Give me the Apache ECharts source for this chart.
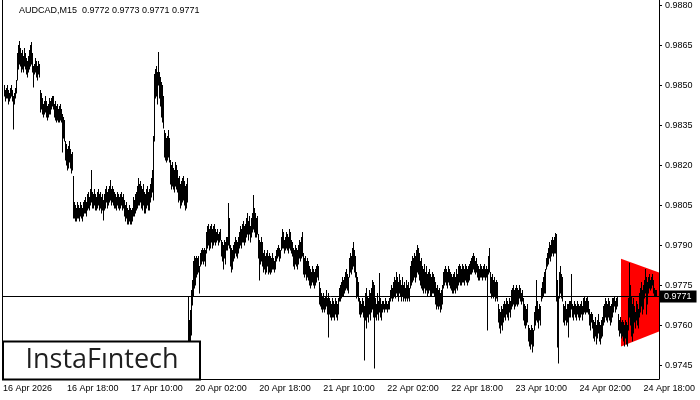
<!DOCTYPE html>
<html><head><meta charset="utf-8">
<script src="https://cdn.jsdelivr.net/npm/echarts@6/dist/echarts.min.js"></script>
<style>html,body{margin:0;padding:0;background:#fff}#c{width:700px;height:400px}</style>
</head><body><div id="c"></div>
<script>
// AUDCAD M15 bar highs / lows (one value per bar)
const highs = [
0.9849,0.9850,0.9848,0.9849,0.9850,0.9848,0.9847,0.9849,0.9850,0.9848,
0.9846,0.9847,0.9849,0.9852,0.9862,0.9865,0.98665,0.9864,0.9862,0.9863,
0.9861,0.9864,0.9862,0.9860,0.9859,0.9861,0.9863,0.9865,0.9866,0.9862,
0.9857,0.9858,0.9860,0.9859,0.9857,0.9859,0.9858,0.9848,0.9847,0.9845,
0.9843,0.9844,0.9846,0.9844,0.9842,0.9843,0.9845,0.9844,0.9845,0.9846,
0.9846,0.9843,0.9844,0.9842,0.9843,0.9841,0.9842,0.9843,0.9841,0.9839,
0.9838,0.9837,0.9829,0.9828,0.9826,0.9827,0.9829,0.9826,0.9824,0.9825,
0.9816,0.9806,0.9805,0.9804,0.9806,0.9805,0.9804,0.9806,0.9805,0.9804,
0.9806,0.9807,0.9808,0.9806,0.9809,0.9810,0.9808,0.9811,0.98181,0.9810,
0.9809,0.9811,0.9809,0.9808,0.9810,0.9811,0.9809,0.9810,0.9808,0.9809,
0.9807,0.9809,0.9811,0.9812,0.9810,0.9811,0.9812,0.98144,0.9811,0.9812,
0.9811,0.9810,0.9809,0.9808,0.9810,0.9809,0.9808,0.9809,0.9810,0.9808,
0.9809,0.9807,0.9805,0.9806,0.9804,0.9803,0.9805,0.9804,0.9803,0.9804,
0.9808,0.9807,0.9809,0.9810,0.9812,0.9815,0.9813,0.9814,0.9812,0.9811,
0.9813,0.9810,0.9809,0.9811,0.9812,0.9810,0.9811,0.9813,0.9815,0.9818,
0.9831,0.9854,0.9856,0.9857,0.9855,0.98624,0.9855,0.9853,0.9851,0.9850,
0.9846,0.9833,0.9832,0.9830,0.9831,0.9833,0.9830,0.9822,0.9820,0.9821,
0.9819,0.9818,0.9821,0.9820,0.9818,0.9815,0.9816,0.9813,0.9814,0.9815,
0.9816,0.9814,0.9812,0.9813,0.9815,0.97705,0.97619,0.97656,0.97731,0.97769,
0.9784,0.9786,0.9785,0.9786,0.9785,0.9786,0.9782,0.9787,0.9788,0.9789,
0.9788,0.9789,0.9788,0.9795,0.9797,0.9798,0.9796,0.9797,0.9798,0.9796,
0.9797,0.9798,0.9796,0.9795,0.9796,0.9794,0.9795,0.9796,0.9792,0.9791,
0.9790,0.9792,0.9791,0.9793,0.9793,0.98058,0.9800,0.9790,0.9789,0.9788,
0.9790,0.9791,0.9793,0.9792,0.9791,0.9793,0.9795,0.9797,0.9796,0.9798,
0.9799,0.9797,0.9798,0.9800,0.9802,0.9799,0.9801,0.9797,0.9800,0.9802,
0.98088,0.9804,0.9802,0.9800,0.9801,0.9794,0.9792,0.9791,0.9793,0.9791,
0.9787,0.9788,0.9786,0.9787,0.9788,0.9786,0.9787,0.9786,0.9785,0.9787,
0.9785,0.9784,0.9786,0.9788,0.9789,0.9790,0.9789,0.9788,0.9793,0.9796,
0.9795,0.9792,0.9793,0.9795,0.9794,0.9793,0.9796,0.9795,0.9792,0.9791,
0.9789,0.9788,0.9790,0.9789,0.9788,0.9790,0.9792,0.9791,0.9793,0.9795,
0.9787,0.9785,0.9786,0.9784,0.9785,0.9784,0.9782,0.9781,0.9780,0.9782,
0.9781,0.9780,0.9781,0.9782,0.9783,0.9782,0.9776,0.9774,0.9772,0.9771,
0.9772,0.9770,0.9771,0.9773,0.9770,0.9772,0.9770,0.9769,0.9768,0.9770,
0.9769,0.9768,0.9770,0.9769,0.9768,0.9770,0.9774,0.9775,0.9776,0.9778,
0.9777,0.9778,0.9780,0.9781,0.9779,0.9778,0.9785,0.9787,0.9786,0.9789,
0.97911,0.9788,0.9786,0.9780,0.9778,0.9776,0.9770,0.9769,0.9768,0.9770,
0.9769,0.9767,0.9772,0.9774,0.9771,0.9770,0.9773,0.9772,0.9774,0.9777,
0.9776,0.9775,0.9770,0.9768,0.9772,0.9769,0.97795,0.9770,0.9768,0.9769,
0.9769,0.9768,0.9770,0.9769,0.9768,0.9769,0.9770,0.9773,0.9775,0.9774,
0.9776,0.9778,0.9777,0.9780,0.9778,0.9776,0.9779,0.9777,0.9775,0.9778,
0.9775,0.9776,0.9774,0.9777,0.9775,0.9776,0.9774,0.9782,0.9784,0.9786,
0.9785,0.9787,0.9786,0.9788,0.9790,0.9789,0.9787,0.9784,0.9785,0.9782,
0.9781,0.9783,0.9780,0.9782,0.9779,0.9780,0.9781,0.9779,0.9778,0.9780,
0.9779,0.9778,0.9776,0.9774,0.9775,0.9773,0.9774,0.9772,0.9773,0.9775,
0.9780,0.9781,0.9782,0.9781,0.9780,0.9782,0.9781,0.9780,0.9779,0.9778,
0.9779,0.9780,0.9778,0.9781,0.9779,0.9782,0.9783,0.9782,0.9781,0.9783,
0.9782,0.9781,0.9783,0.9782,0.9781,0.9782,0.9783,0.9784,0.9785,0.9786,
0.9787,0.9786,0.9784,0.9785,0.9783,0.9782,0.9781,0.9783,0.9782,0.9781,
0.9782,0.9783,0.9781,0.9782,0.9781,0.9786,0.9789,0.9780,0.9778,0.9779,
0.9777,0.9778,0.9776,0.9777,0.9776,0.9768,0.9766,0.9765,0.9767,0.9766,
0.9768,0.9769,0.9768,0.9770,0.9769,0.9768,0.9770,0.9769,0.9773,0.9774,
0.9775,0.9773,0.9774,0.9775,0.9774,0.9773,0.9775,0.9774,0.9772,0.9773,
0.9770,0.9768,0.9767,0.9766,0.9768,0.9760,0.9759,0.9758,0.9760,0.9759,
0.9758,0.9765,0.9767,0.9777,0.9769,0.9766,0.9768,0.9767,0.9774,0.9776,
0.9778,0.9780,0.9781,0.9785,0.9787,0.9789,0.9791,0.9790,0.9792,0.9793,
0.9792,0.9793,0.97945,0.9794,0.9777,0.9771,0.9780,0.9782,0.9779,0.9778,
0.9768,0.9767,0.9769,0.9766,0.9768,0.9768,0.9769,0.9769,0.97791,0.9768,
0.9767,0.9769,0.9768,0.9767,0.9769,0.9768,0.9767,0.9768,0.9769,0.9767,
0.9770,0.9771,0.9769,0.9770,0.9771,0.9769,0.9766,0.9764,0.9765,0.9764,
0.9762,0.9761,0.9763,0.9760,0.9762,0.9764,0.9761,0.9760,0.9762,0.9763,
0.9767,0.9768,0.9770,0.9769,0.9768,0.9770,0.9769,0.9767,0.9768,0.9770,
0.9770,0.9771,0.9769,0.9770,0.9771,0.9764,0.9762,0.9763,0.9761,0.9762,
0.9761,0.9760,0.9762,0.9761,0.9760,0.9770,0.97833,0.9775,0.9771,0.9768,
0.9770,0.9767,0.9765,0.9769,0.9768,0.9766,0.9772,0.9774,0.9776,0.9773,
0.9775,0.9777,0.9781,0.9778,0.9776,0.9778,0.9779,0.9777,0.9778,0.9779,
0.9777,0.9774,0.9773,0.9773
];
const lows = [
0.9845,0.9846,0.9844,0.9845,0.9845,0.9843,0.9844,0.9845,0.9846,0.9844,
0.98335,0.9843,0.9845,0.9847,0.9852,0.9856,0.9858,0.9857,0.9855,0.9856,
0.9855,0.9857,0.9856,0.9854,0.9853,0.9855,0.9856,0.9857,0.9858,0.9855,
0.98493,0.9854,0.9855,0.9853,0.9852,0.9854,0.9853,0.9840,0.9841,0.9839,
0.9838,0.9839,0.9840,0.9838,0.9837,0.9838,0.9839,0.9839,0.9841,0.9842,
0.9841,0.9838,0.9837,0.9836,0.9837,0.9836,0.9836,0.9837,0.9836,0.98249,
0.9830,0.9829,0.9822,0.9820,0.9818,0.9819,0.9821,0.9819,0.9817,0.9818,
0.9800,0.9800,0.9799,0.9799,0.9800,0.9800,0.9799,0.9801,0.9800,0.9799,
0.9801,0.9802,0.9802,0.9801,0.9803,0.9804,0.9803,0.9805,0.9806,0.9804,
0.9804,0.9805,0.9803,0.9803,0.9804,0.9805,0.9803,0.9804,0.9802,0.9803,
0.97994,0.9803,0.9804,0.9806,0.9804,0.9805,0.9806,0.9807,0.9805,0.9806,
0.9805,0.9804,0.9804,0.9803,0.9805,0.9804,0.9803,0.9804,0.9805,0.9803,
0.9804,0.9801,0.9799,0.9800,0.9798,0.9798,0.9799,0.9798,0.9798,0.9799,
0.9801,0.9801,0.9802,0.9803,0.9804,0.9805,0.9805,0.9806,0.9804,0.9803,
0.9805,0.9802,0.9802,0.9804,0.9805,0.9803,0.9803,0.9806,0.9808,0.9810,
0.9807,0.9829,0.9845,0.9846,0.9843,0.9850,0.9845,0.9842,0.9838,0.9836,
0.9834,0.9823,0.9822,0.9821,0.9822,0.9823,0.9821,0.9813,0.9811,0.9812,
0.9811,0.9810,0.9812,0.9811,0.9810,0.9806,0.9807,0.9804,0.9805,0.9806,
0.9807,0.9805,0.9803,0.9804,0.9806,0.97506,0.97488,0.97525,0.97563,0.97675,
0.9771,0.9774,0.9775,0.9778,0.9779,0.9780,0.9772,0.9782,0.9783,0.9784,
0.9783,0.9784,0.9782,0.9787,0.9789,0.9790,0.9788,0.9789,0.9791,0.9789,
0.9790,0.9791,0.9790,0.9791,0.9792,0.9790,0.9791,0.9792,0.9786,0.9784,
0.9781,0.9785,0.9783,0.9788,0.9788,0.9790,0.9789,0.9782,0.9780,0.9781,
0.9784,0.9785,0.9787,0.9786,0.9785,0.9787,0.9789,0.9790,0.9789,0.9791,
0.9791,0.9790,0.9791,0.9793,0.9794,0.9792,0.9794,0.9791,0.9793,0.9795,
0.9796,0.9795,0.9793,0.9793,0.9794,0.9785,0.97769,0.9783,0.9784,0.9782,
0.9780,0.9781,0.9779,0.9780,0.9782,0.9779,0.9780,0.9779,0.9780,0.9781,
0.9781,0.9780,0.9781,0.9784,0.9785,0.9786,0.9784,0.9785,0.9788,0.9789,
0.9789,0.9787,0.9788,0.9789,0.9788,0.9787,0.9789,0.9788,0.9787,0.9786,
0.9782,0.9781,0.9783,0.9782,0.9781,0.9783,0.9785,0.9784,0.9785,0.9786,
0.9779,0.9778,0.9779,0.9777,0.9778,0.9777,0.9775,0.9774,0.9775,0.9776,
0.9775,0.9774,0.9775,0.9776,0.9778,0.9777,0.9768,0.9767,0.9766,0.9765,
0.9766,0.9765,0.9766,0.9767,0.9764,0.97555,0.9764,0.9763,0.9762,0.9763,
0.9763,0.9762,0.9764,0.9763,0.9762,0.9764,0.9769,0.9769,0.9770,0.9771,
0.9771,0.9772,0.9773,0.9774,0.9773,0.9772,0.9778,0.9780,0.9779,0.9781,
0.9782,0.9780,0.9778,0.9770,0.9771,0.9769,0.9764,0.9763,0.9764,0.9765,
0.9763,0.97469,0.9762,0.9759,0.9763,0.9761,0.9764,0.9762,0.9765,0.9766,
0.9763,0.97439,0.9763,0.9762,0.9764,0.9762,0.9765,0.9763,0.9762,0.9765,
0.9766,0.9765,0.9766,0.9766,0.9765,0.9766,0.9766,0.9769,0.9770,0.9769,
0.9770,0.9771,0.9770,0.9772,0.9771,0.9769,0.9772,0.9771,0.9769,0.9771,
0.9769,0.9770,0.9769,0.9770,0.9769,0.9770,0.9769,0.9774,0.9775,0.9776,
0.9777,0.9778,0.9776,0.9778,0.9780,0.9779,0.9777,0.9775,0.9774,0.9773,
0.9772,0.9774,0.9772,0.9773,0.9771,0.9772,0.9773,0.9771,0.9771,0.9772,
0.9772,0.9771,0.9768,0.9766,0.9767,0.9766,0.9767,0.9765,0.9766,0.9768,
0.9774,0.9775,0.9776,0.9775,0.9774,0.9776,0.9775,0.9774,0.9773,0.9772,
0.9772,0.9773,0.9772,0.9774,0.9773,0.9775,0.9776,0.9775,0.9775,0.9776,
0.9776,0.9775,0.9777,0.9776,0.9775,0.9776,0.9777,0.9779,0.9779,0.9780,
0.9781,0.9780,0.9779,0.9780,0.9778,0.9777,0.9777,0.9778,0.9778,0.9777,
0.9778,0.9778,0.9777,0.9778,0.97581,0.9779,0.9780,0.9772,0.9770,0.9771,
0.9770,0.9771,0.9769,0.9770,0.9769,0.9761,0.9759,0.9757,0.9760,0.9758,
0.9761,0.9763,0.9762,0.9764,0.9763,0.9762,0.9765,0.9763,0.9766,0.9767,
0.9768,0.9766,0.9767,0.9768,0.9767,0.9768,0.9770,0.9769,0.9768,0.9769,
0.9762,0.9760,0.9759,0.9760,0.9761,0.9754,0.9752,0.9751,0.9753,0.97499,
0.9752,0.9758,0.9760,0.9762,0.9761,0.9759,0.9762,0.9760,0.9769,0.9770,
0.9771,0.9772,0.9772,0.9781,0.9782,0.9783,0.9785,0.9784,0.9786,0.9787,
0.9786,0.9787,0.9787,0.9769,0.97518,0.97458,0.9770,0.9772,0.9770,0.9769,
0.9761,0.9760,0.9762,0.9760,0.9761,0.97555,0.9763,0.9763,0.9766,0.9763,
0.9762,0.9764,0.9763,0.9762,0.9764,0.9763,0.9762,0.9763,0.9764,0.9762,
0.9764,0.9765,0.9764,0.9765,0.9765,0.9764,0.9760,0.9758,0.9761,0.9759,
0.9755,0.9754,0.9756,0.9753,0.9755,0.9757,0.9754,0.9753,0.9755,0.9756,
0.9760,0.9761,0.9763,0.9762,0.9761,0.9763,0.9762,0.9760,0.9761,0.9763,
0.9765,0.9767,0.9765,0.9766,0.9767,0.9758,0.9756,0.9757,0.9755,0.9756,
0.9754,0.9752,0.9755,0.9753,0.9752,0.9758,0.9763,0.9760,0.9756,0.9754,
0.9757,0.9761,0.9759,0.9762,0.9760,0.9759,0.9763,0.9765,0.9767,0.9764,
0.9766,0.9770,0.9772,0.9764,0.9768,0.9772,0.9774,0.9773,0.9774,0.9775,
0.9772,0.9771,0.9771,0.9771
];
const barCount = 656;               // bars that fit in the window (incl. right shift)
const tickLabels = ['16 Apr 2026','16 Apr 18:00','17 Apr 10:00','20 Apr 02:00','20 Apr 18:00',
  '21 Apr 10:00','22 Apr 02:00','22 Apr 18:00','23 Apr 10:00','24 Apr 02:00','24 Apr 18:00'];
const labelEvery = 64;
const yTicks = [0.9745,0.9760,0.9775,0.9790,0.9805,0.9820,0.9835,0.9850,0.9865,0.9880];
const lastPrice = 0.9771;
// pennant pattern: [start bar, end bar], top and bottom prices at each end
const patternBars = [618, 655];
const patternTop = [0.97849, 0.97797];
const patternBottom = [0.97520, 0.97576];
const titleText = 'AUDCAD,M15  0.9772 0.9773 0.9771 0.9771';

// category times (M15, weekend skipped)
const cats = [];
{
  let t = Date.UTC(2026, 3, 16, 2, 0);
  const mon = ['Jan','Feb','Mar','Apr','May','Jun','Jul','Aug','Sep','Oct','Nov','Dec'];
  while (cats.length < barCount) {
    const d = new Date(t);
    const wd = d.getUTCDay();
    if (wd !== 0 && wd !== 6) {
      const p = n => String(n).padStart(2, '0');
      cats.push(d.getUTCDate() + ' ' + mon[d.getUTCMonth()] + ' ' + p(d.getUTCHours()) + ':' + p(d.getUTCMinutes()));
    }
    t += 15 * 60000;
  }
}

const chart = echarts.init(document.getElementById('c'), null, {renderer: 'canvas'});
const FONT = 'Liberation Sans';
chart.setOption({
  animation: false,
  backgroundColor: '#fff',
  title: {text: titleText, left: 19, top: 6, padding: 0,
    textStyle: {fontFamily: FONT, fontSize: 9, fontWeight: 'normal', color: '#000'}},
  grid: {left: 2, right: 41, top: 0, bottom: 21, containLabel: false},
  xAxis: {
    type: 'category', data: cats, boundaryGap: true,
    axisLine: {lineStyle: {color: '#000', width: 1}},
    axisTick: {alignWithLabel: true, interval: i => i % labelEvery === 0, length: 3, lineStyle: {color: '#000'}},
    axisLabel: {interval: i => i % labelEvery === 0, formatter: (v, i) => tickLabels[Math.round(i / labelEvery)] || '',
      align: 'left', margin: 5, color: '#000', fontFamily: FONT, fontSize: 9},
    splitLine: {show: false}
  },
  yAxis: {
    type: 'value', position: 'right', min: 0.97398, max: 0.98819,
    axisLine: {show: true, lineStyle: {color: '#000', width: 1}},
    axisTick: {show: true, length: 3, customValues: yTicks, lineStyle: {color: '#000'}},
    axisLabel: {customValues: yTicks, formatter: v => v.toFixed(4), margin: 6, color: '#000', fontFamily: FONT, fontSize: 9},
    splitLine: {show: false}
  },
  series: [
    {
      type: 'custom', z: 1, silent: true,
      data: [[patternBars[0], patternTop[0], patternBars[1], patternTop[1], patternBottom[0], patternBottom[1]]],
      encode: {x: [0, 2], y: [1, 3, 4, 5]},
      renderItem: (params, api) => {
        const half = api.size([1, 0])[0] / 2;
        const tl = api.coord([api.value(0), api.value(1)]);
        const tr = api.coord([api.value(2), api.value(3)]);
        const bl = api.coord([api.value(0), api.value(4)]);
        const br = api.coord([api.value(2), api.value(5)]);
        return {type: 'polygon', shape: {points: [[tl[0] - half, tl[1]], [tr[0] + half, tr[1]], [br[0] + half, br[1]], [bl[0] - half, bl[1]]]},
          style: {fill: '#ff0000'}};
      }
    },
    {
      type: 'custom', z: 3, silent: true,
      data: lows.map((l, i) => [i, l, highs[i]]),
      encode: {x: 0, y: [1, 2]},
      renderItem: (params, api) => {
        const i = api.value(0);
        const a = api.coord([i, api.value(1)]);
        const b = api.coord([i, api.value(2)]);
        const x = Math.round(a[0] - 0.5) + 0.5;
        let y1 = Math.round(a[1]) + 0.5, y2 = Math.round(b[1]);
        if (y1 - y2 < 1) y2 = y1 - 1;
        return {type: 'line', shape: {x1: x, y1: y1, x2: x, y2: y2}, style: {stroke: '#000', lineWidth: 1}};
      }
    },
    {
      // current price line with its label on the price scale
      type: 'custom', z: 4, silent: true, clip: false,
      data: [[0, lastPrice]],
      encode: {x: 0, y: 1},
      renderItem: (params, api) => {
        const p = api.coord([api.value(0), api.value(1)]);
        const cs = params.coordSys;
        const y = Math.round(p[1]) + 0.5;
        return {type: 'group', children: [
          {type: 'line', shape: {x1: cs.x, y1: y, x2: cs.x + cs.width, y2: y}, style: {stroke: '#000', lineWidth: 1}},
          {type: 'text', x: cs.x + cs.width + 1, y: y,
            style: {text: api.value(1).toFixed(4), fill: '#fff', backgroundColor: '#000', padding: [2, 5, 1, 4],
              font: '9px "Liberation Sans"', align: 'left', verticalAlign: 'middle'}}
        ]};
      }
    }
  ],
  graphic: [
    {type: 'line', shape: {x1: 2.5, y1: 0, x2: 2.5, y2: 379}, style: {stroke: '#000', lineWidth: 1}, z: 50},
    {type: 'rect', shape: {x: 3, y: 341.5, width: 197, height: 38}, style: {fill: '#fff', stroke: '#000', lineWidth: 2}, z: 100},
    {type: 'text', x: 102, y: 360, z: 101,
      style: {text: 'InstaF\u0131ntech', font: '500 27px "Open Sans"', fill: '#1e1e1e', textAlign: 'center', textVerticalAlign: 'middle'}}
  ]
});
</script></body></html>
